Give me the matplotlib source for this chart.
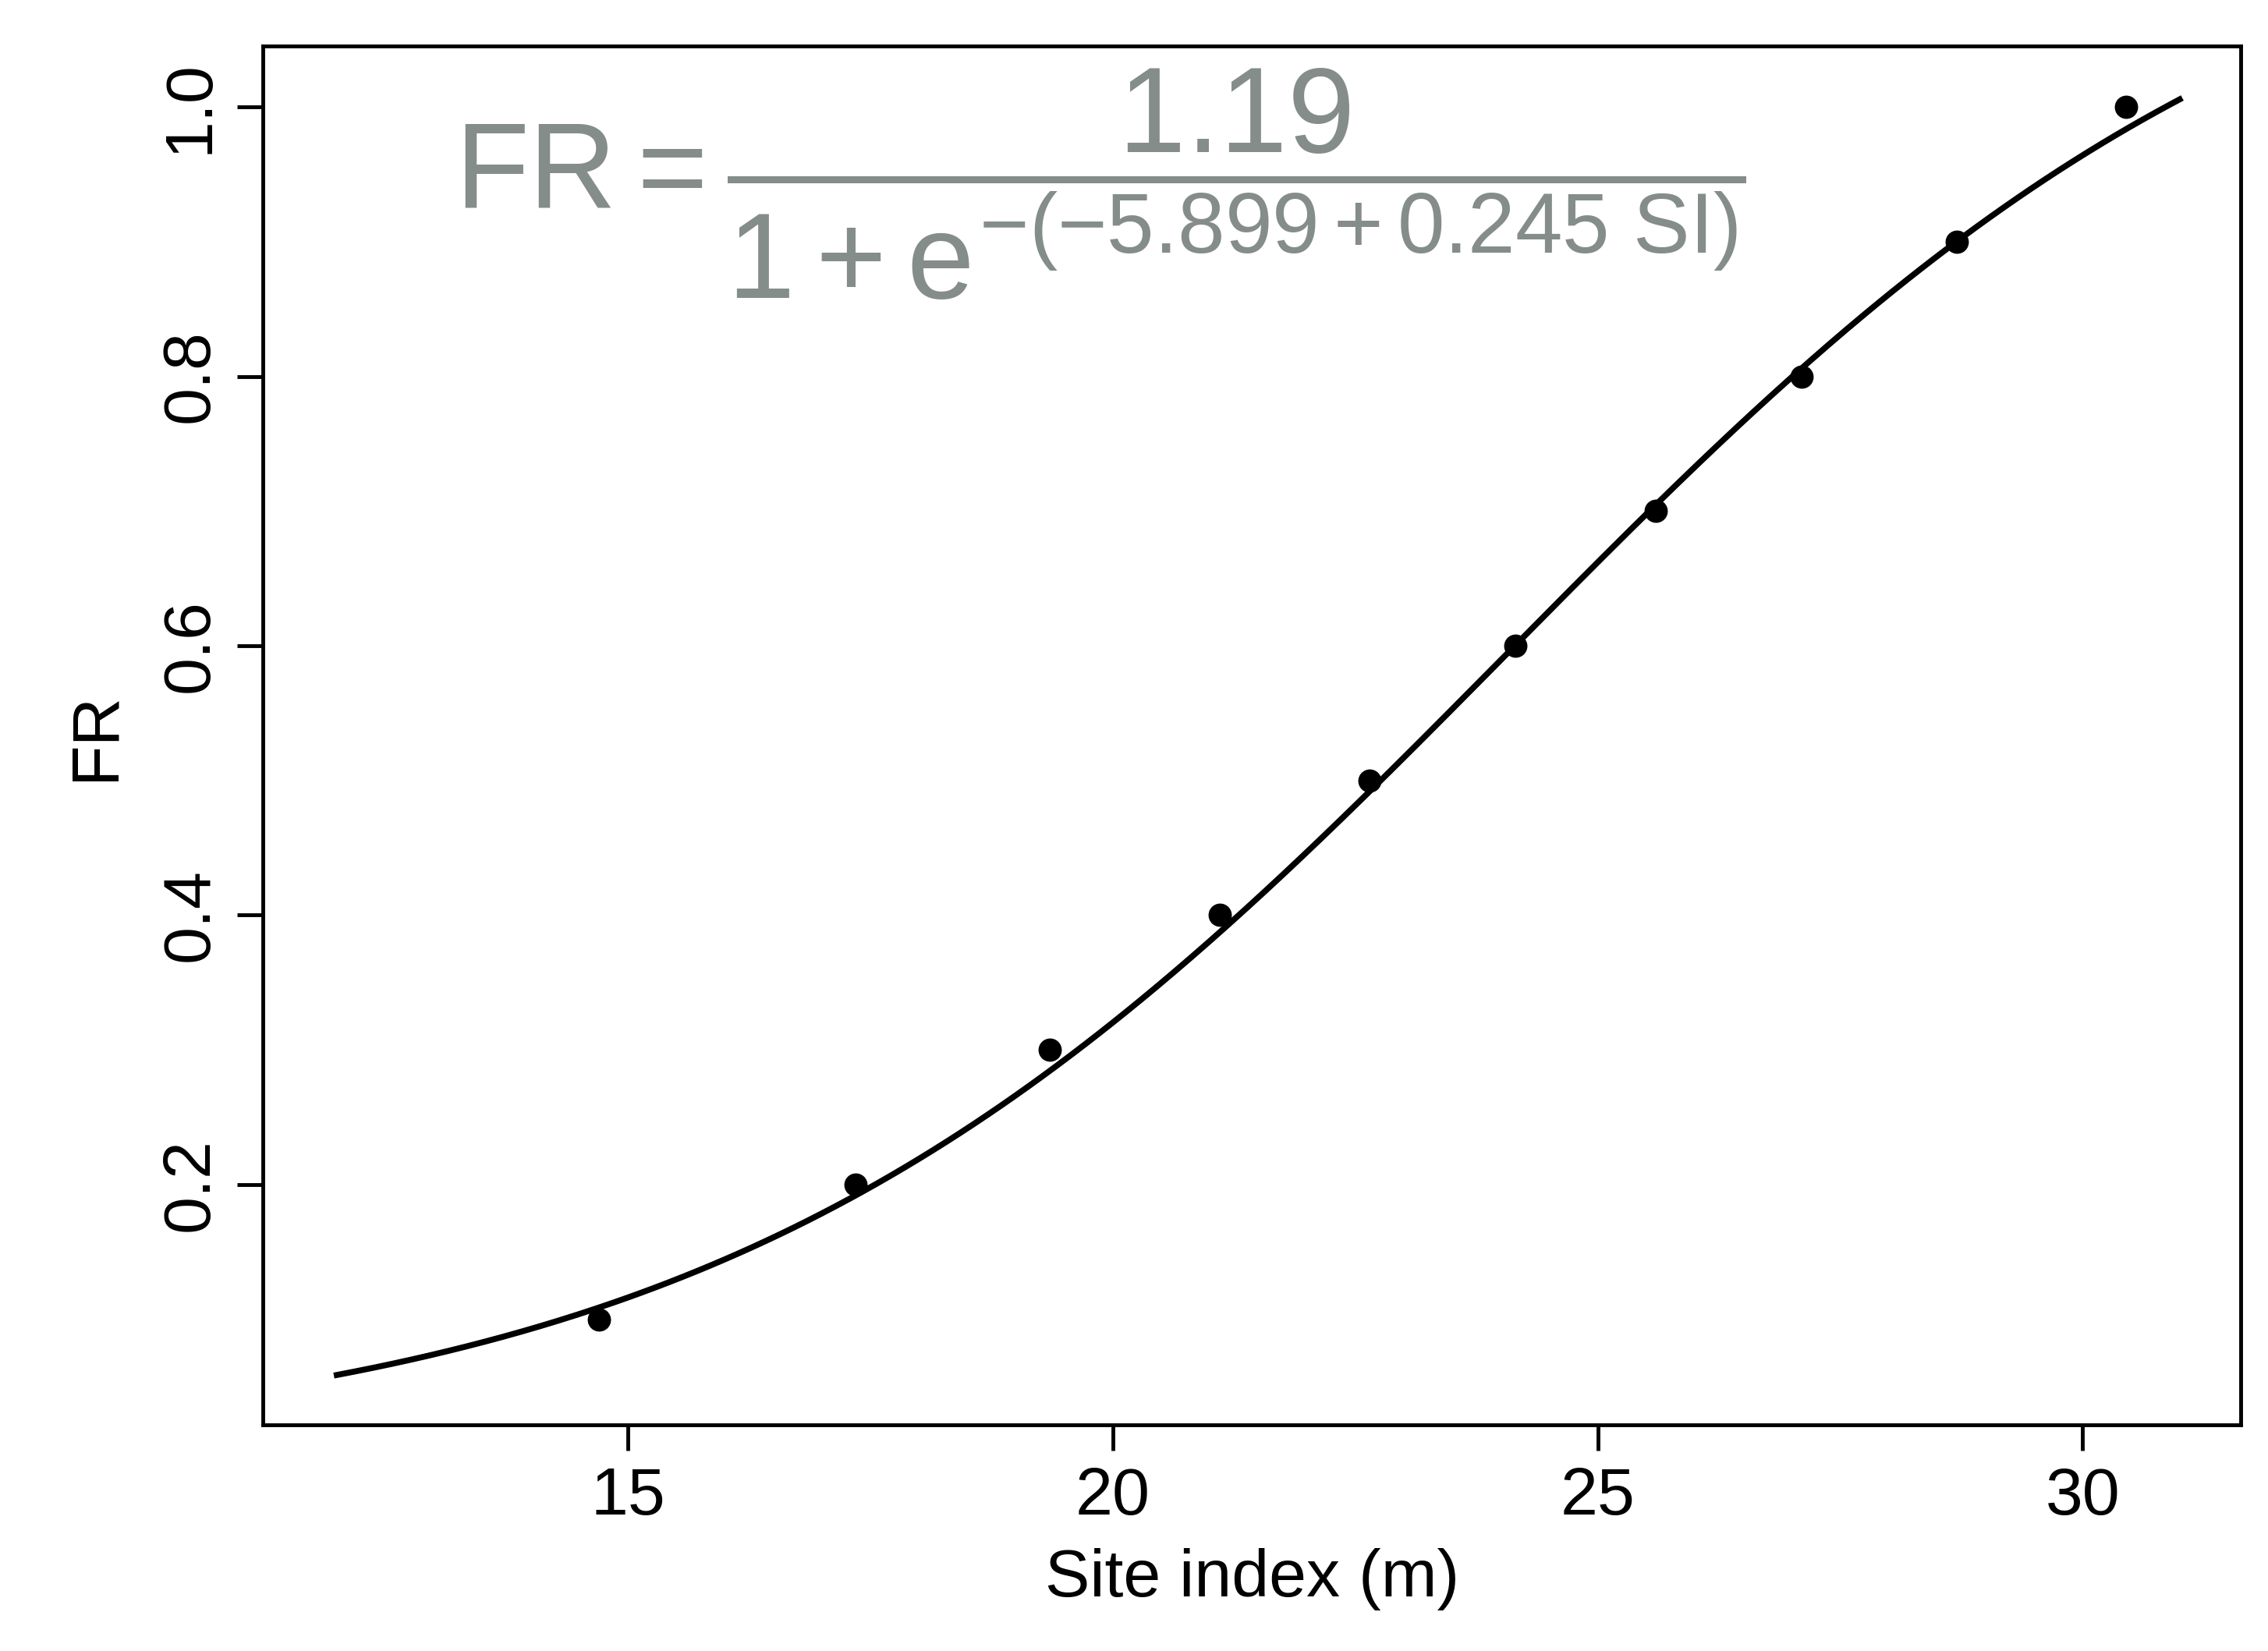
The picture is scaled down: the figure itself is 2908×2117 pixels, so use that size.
import numpy as np
import matplotlib
matplotlib.use("Agg")
import matplotlib.pyplot as plt

plt.rcParams['font.family'] = ['Liberation Sans', 'DejaVu Sans']
plt.rcParams['mathtext.fontset'] = 'custom'
plt.rcParams['mathtext.rm'] = 'Liberation Sans'
plt.rcParams['mathtext.it'] = 'Liberation Sans'

site_index = [14.7, 17.35, 19.35, 21.1, 22.65, 24.15, 25.6, 27.1, 28.7, 30.45]
fr = [0.1, 0.2, 0.3, 0.4, 0.5, 0.6, 0.7, 0.8, 0.9, 1.0]
a, b0, b1 = 1.19, -5.899, 0.245
x_ticks = [15, 20, 25, 30]
y_ticks = [0.2, 0.4, 0.6, 0.8, 1.0]

fig = plt.figure(figsize=(29.08, 21.17), dpi=100)
ax = fig.add_axes([0.116, 0.137, 0.872, 0.835])
xs = np.linspace(12, 31, 400)
ax.plot(xs, a / (1 + np.exp(-(b0 + b1 * xs))), color='black', lw=5.5)
ax.scatter(site_index, fr, s=420, color='black', zorder=3)
ax.set_xlim(11.24, 31.63)
ax.set_ylim(0.0217, 1.045)
ax.set_xticks(x_ticks)
ax.set_xticklabels([str(t) for t in x_ticks])
ax.set_yticks(y_ticks)
ax.set_yticklabels([f"{t:.1f}" for t in y_ticks], rotation=90, va='center')
ax.tick_params(labelsize=62, width=3.5, length=24, pad=14)
for s in ax.spines.values():
    s.set_linewidth(3.5)
ax.set_xlabel("Site index (m)", fontsize=62, labelpad=18)
ax.set_ylabel("FR", fontsize=62, labelpad=30)
ax.text(0.097, 0.9, r"$\mathrm{FR}=\dfrac{1.19}{1+e^{-(-5.899+0.245\ \mathrm{SI})}}$",
        transform=ax.transAxes, fontsize=112, color='#858d8a', va='center', ha='left')
fig.savefig("out.png", dpi=100)
